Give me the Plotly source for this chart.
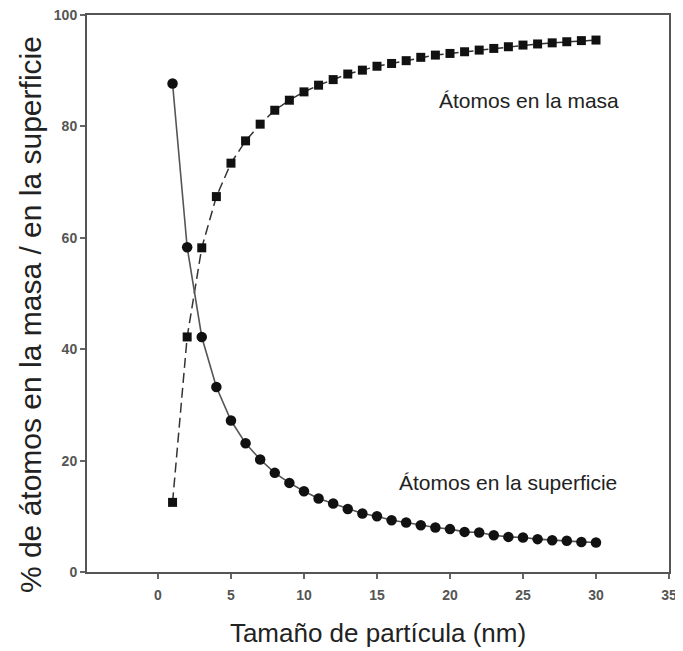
import plotly.graph_objects as go

size_nm = list(range(1, 31))
masa = [12.5, 42.2, 58.2, 67.4, 73.4, 77.4, 80.4, 82.9, 84.7, 86.2,
        87.4, 88.4, 89.4, 90.1, 90.8, 91.3, 91.8, 92.4, 92.8, 93.1,
        93.4, 93.7, 94.0, 94.3, 94.6, 94.8, 95.0, 95.2, 95.4, 95.5]
superficie = [87.7, 58.3, 42.2, 33.2, 27.2, 23.1, 20.2, 17.8, 16.0, 14.5,
              13.2, 12.3, 11.3, 10.5, 10.0, 9.3, 8.9, 8.4, 8.0, 7.7,
              7.2, 7.1, 6.6, 6.3, 6.2, 5.9, 5.7, 5.6, 5.4, 5.3]
x_ticks = [0, 5, 10, 15, 20, 25, 30, 35]
y_ticks = [0, 20, 40, 60, 80, 100]

FONT = "Liberation Sans, Arial"

fig = go.Figure()
fig.add_trace(go.Scatter(
    x=size_nm, y=masa, mode="lines+markers",
    line=dict(color="#333333", width=1.5, dash="10px,5px"),
    marker=dict(symbol="square", size=9, color="#111111"),
    showlegend=False))
fig.add_trace(go.Scatter(
    x=size_nm, y=superficie, mode="lines+markers",
    line=dict(color="#555555", width=1.6),
    marker=dict(symbol="circle", size=10.5, color="#111111"),
    showlegend=False))

fig.add_annotation(x=25.4, y=84.7, text="Átomos en la masa", showarrow=False,
                   font=dict(family=FONT, size=21, color="#222222"))
fig.add_annotation(x=24.0, y=16.0, text="Átomos en la superficie", showarrow=False,
                   font=dict(family=FONT, size=21, color="#222222"))
# y-axis title placed as rotated text (sits slightly below plot centre in the reference)
fig.add_annotation(xref="paper", yref="paper", x=-0.098, y=0.463,
                   text="% de átomos en la masa / en la superficie", textangle=-90,
                   showarrow=False, xanchor="center", yanchor="middle",
                   font=dict(family=FONT, size=30, color="#222222"))

axis_common = dict(showline=True, linecolor="#555555", linewidth=2, mirror=True,
                   ticks="outside", ticklen=5, tickwidth=1.5, tickcolor="#666666",
                   showgrid=False, zeroline=False, automargin=False,
                   ticklabeloverflow="allow",
                   tickfont=dict(family=FONT, size=14, color="#555555", weight="bold"))

fig.update_layout(
    width=683, height=651,
    margin=dict(l=79, r=22, t=7, b=87),
    paper_bgcolor="white", plot_bgcolor="white",
    xaxis=dict(range=[-4.86, 35], tickvals=x_ticks, ticklabelstandoff=4,
               title=dict(text="Tamaño de partícula (nm)", standoff=22,
                          font=dict(family=FONT, size=26, color="#222222")),
               **axis_common),
    yaxis=dict(range=[0, 100], tickvals=y_ticks, **axis_common),
)

fig.write_html("out.html")
